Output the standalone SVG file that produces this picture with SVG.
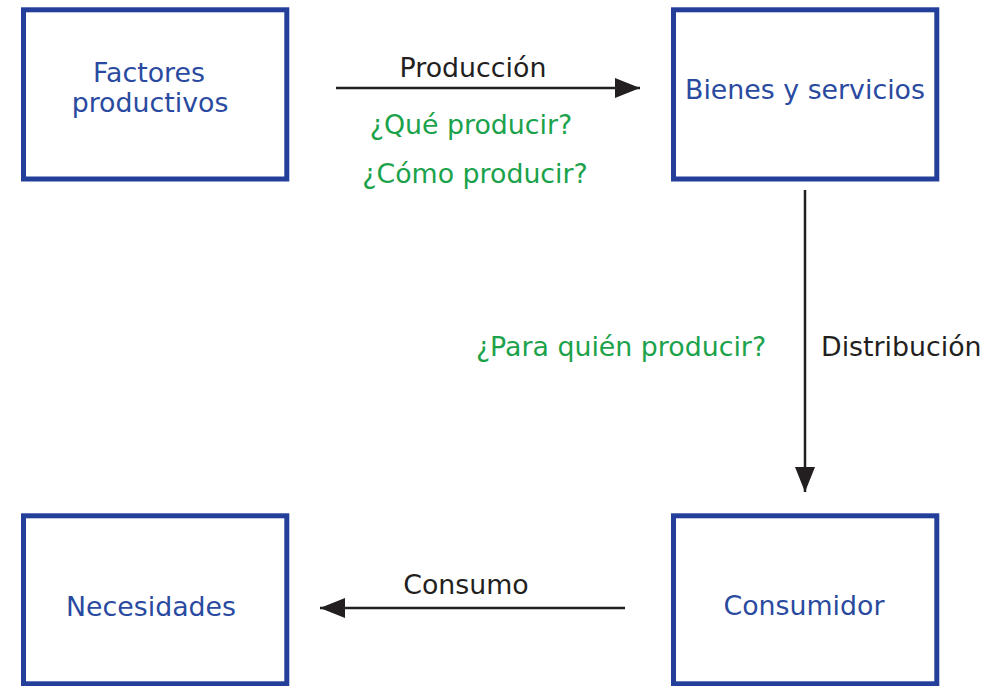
<svg xmlns="http://www.w3.org/2000/svg" width="1002" height="686" viewBox="0 0 1002 686">
<style>
.box{fill:#fff;stroke:#233f99;stroke-width:5}
.node{font-family:"DejaVu Sans",Verdana,sans-serif;font-size:26.8px;fill:#2a4a9f;text-anchor:middle}
.lbl{font-family:"DejaVu Sans",Verdana,sans-serif;font-size:26.8px;fill:#231f20}
.q{font-family:"DejaVu Sans",Verdana,sans-serif;font-size:26.8px;fill:#1ba24b}
.c{stroke:#231f20;stroke-width:2.5;fill:none}
</style>
<defs>
<marker id="ah" markerUnits="userSpaceOnUse" markerWidth="26" markerHeight="22" refX="25" refY="10" orient="auto">
<path d="M0,0 L25,10 L0,20 Z" fill="#231f20"/>
</marker>
</defs>
<rect width="1002" height="686" fill="#fff"/>
<g id="connectors">
<line class="c" x1="336" y1="88" x2="640" y2="88" marker-end="url(#ah)"/>
<line class="c" x1="805" y1="190" x2="805" y2="492" marker-end="url(#ah)"/>
<line class="c" x1="625" y1="608" x2="320" y2="608" marker-end="url(#ah)"/>
<text class="lbl" x="473" y="77" text-anchor="middle">Producción</text>
<text class="q" x="471" y="134" text-anchor="middle">¿Qué producir?</text>
<text class="q" x="475" y="183" text-anchor="middle">¿Cómo producir?</text>
<text class="q" x="621" y="356" text-anchor="middle">¿Para quién producir?</text>
<text class="lbl" x="821" y="356">Distribución</text>
<text class="lbl" x="466" y="594" text-anchor="middle">Consumo</text>
</g>
<g id="factores">
<rect class="box" x="23.5" y="9.8" width="263.3" height="169.2"/>
<text class="node" x="149" y="82">Factores</text>
<text class="node" x="150" y="112">productivos</text>
</g>
<g id="bienes">
<rect class="box" x="673.5" y="9.8" width="263.3" height="169.2"/>
<text class="node" x="805" y="99">Bienes y servicios</text>
</g>
<g id="necesidades">
<rect class="box" x="23.5" y="515.8" width="263.3" height="168"/>
<text class="node" x="151" y="616">Necesidades</text>
</g>
<g id="consumidor">
<rect class="box" x="673.5" y="515.8" width="263.3" height="168"/>
<text class="node" x="804" y="615">Consumidor</text>
</g>
</svg>
